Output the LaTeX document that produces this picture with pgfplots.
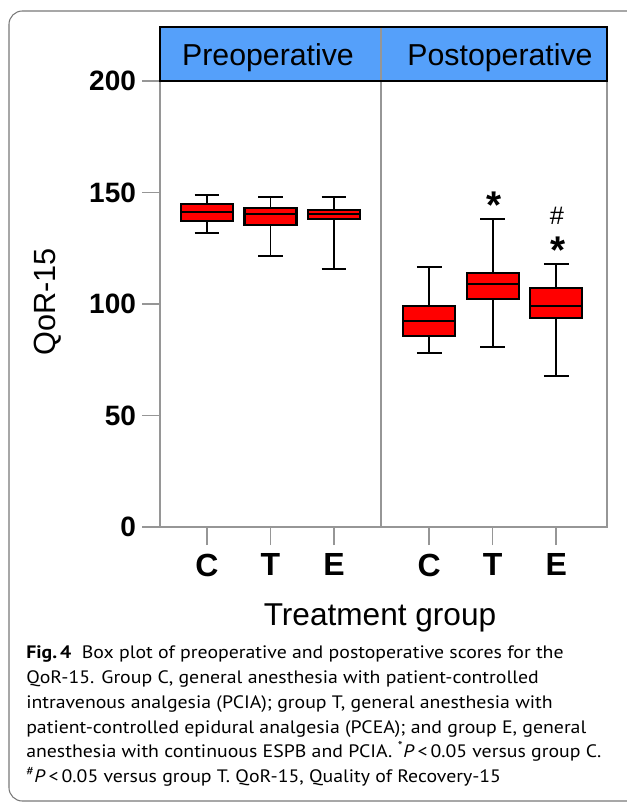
\documentclass[border=0pt]{standalone}
\usepackage{fontspec}
\setmainfont{Liberation Sans}
\newfontfamily\capfont[FakeStretch=1.1]{PT Sans}
\usepackage{pgfplots}
\pgfplotsset{compat=1.18}
\definecolor{hdrblue}{RGB}{85,160,250}
\definecolor{axgray}{RGB}{150,150,150}
\definecolor{framegray}{RGB}{120,120,120}
% #1 position, #2 lower whisker, #3 lower quartile, #4 median, #5 upper quartile, #6 upper whisker
\newcommand{\qbox}[6]{%
  \pgfmathsetmacro{\xl}{#1-0.41}\pgfmathsetmacro{\xr}{#1+0.41}%
  \pgfmathsetmacro{\cl}{#1-0.195}\pgfmathsetmacro{\cR}{#1+0.195}%
  \edef\qtmp{%
    \noexpand\addplot[black, line width=1.4pt] coordinates {(#1,#2) (#1,#3)};
    \noexpand\addplot[black, line width=1.4pt] coordinates {(#1,#5) (#1,#6)};
    \noexpand\addplot[black, line width=1.4pt] coordinates {(\cl,#2) (\cR,#2)};
    \noexpand\addplot[black, line width=1.4pt] coordinates {(\cl,#6) (\cR,#6)};
    \noexpand\addplot[fill=red, draw=black, line width=1.6pt] coordinates {(\xl,#3) (\xr,#3) (\xr,#5) (\xl,#5)} -- cycle;
    \noexpand\addplot[black, line width=1.5pt] coordinates {(\xl,#4) (\xr,#4)};
  }\qtmp}
\begin{document}
\begin{tikzpicture}
\begin{axis}[
  at={(120pt,-395.25pt)}, anchor=south west,
  scale only axis, width=335.25pt, height=334.5pt,
  xmin=0.26, xmax=7.30, ymin=0, ymax=200,
  axis line style={axgray, line width=1.1pt},
  every tick/.style={axgray, line width=1.1pt},
  tick align=outside, major tick length=13.5pt,
  ytick={0,50,100,150,200}, ytick pos=left,
  xtick={1,2,3,4.5,5.5,6.5}, xtick pos=bottom,
  xticklabels={C,T,E,C,T,E},
  /pgf/number format/assume math mode=true,
  yticklabel style={font=\fontsize{21}{21}\selectfont\bfseries, xshift=-1pt},
  xticklabel style={font=\fontsize{24}{24}\selectfont\bfseries, yshift=-3pt},
  clip=false,
]
% Preoperative
\qbox{1}{131.8}{137.4}{141.3}{145.0}{148.9}
\qbox{2}{121.7}{135.4}{140.2}{143.0}{147.8}
\qbox{3}{115.7}{138.1}{140.2}{142.2}{147.8}
% Postoperative
\qbox{4.5}{77.9}{85.6}{92.4}{99.2}{116.7}
\qbox{5.5}{80.7}{102.2}{108.8}{114.0}{138.0}
\qbox{6.5}{67.7}{93.9}{99.2}{107.3}{117.8}
\end{axis}
\begin{scope}[x=0.75pt,y=-0.75pt]
% outer frame
\draw[framegray, line width=0.8pt, rounded corners=10pt] (660,11) -- (9,11) -- (9,801) -- (660,801);
% divider
\draw[axgray, line width=1.1pt] (381,27) -- (381,527);
% header
\fill[hdrblue] (160,27) rectangle (607,81);
\draw[axgray, line width=1.1pt] (381,27) -- (381,81);
\draw[black, line width=1.4pt] (160,27) rectangle (607,81);
\node[anchor=base, font=\fontsize{22.7}{22.7}\selectfont, inner sep=0pt] at (268,65) {Preoperative};
\node[anchor=base, font=\fontsize{22.7}{22.7}\selectfont, inner sep=0pt] at (500,65) {Postoperative};
% significance marks
\node[anchor=base, font=\fontsize{29}{29}\selectfont\bfseries, inner sep=0pt] at (494,218) {*};
\node[anchor=base, font=\fontsize{19}{19}\selectfont, inner sep=0pt] at (557,224) {\#};
\node[anchor=base, font=\fontsize{29}{29}\selectfont\bfseries, inner sep=0pt] at (558,263) {*};
% axis labels
\node[rotate=90, anchor=center, font=\fontsize{23}{23}\selectfont, inner sep=0pt] at (48,302) {QoR-15};
\node[anchor=base, font=\fontsize{23.7}{23.7}\selectfont, inner sep=0pt] at (380,625) {Treatment group};
% caption
\begin{scope}[every node/.style={anchor=base west, inner sep=0pt, font=\capfont\fontsize{13.5}{16}\selectfont}]
\node at (26,658) {\textbf{Fig.\,4}\ \ Box plot of preoperative and postoperative scores for the};
\node at (26,683) {QoR-15. Group C, general anesthesia with patient-controlled};
\node at (26,708) {intravenous analgesia (PCIA); group T, general anesthesia with};
\node at (26,733) {patient-controlled epidural analgesia (PCEA); and group E, general};
\node at (26,757) {anesthesia with continuous ESPB and PCIA. \textsuperscript{*}\textit{P}\,<\,0.05 versus group C.};
\node at (26,782) {\textsuperscript{\#}\textit{P}\,<\,0.05 versus group T. QoR-15, Quality of Recovery-15};
\end{scope}
\pgfresetboundingbox
\useasboundingbox (0,0) rectangle (627,803);
\end{scope}
\end{tikzpicture}
\end{document}
